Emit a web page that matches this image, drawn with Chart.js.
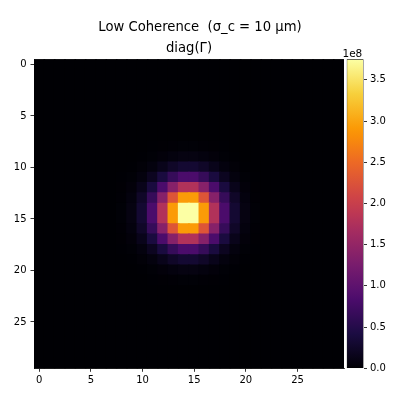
<!DOCTYPE html>
<html><head><meta charset="utf-8">
<script src="https://cdn.jsdelivr.net/npm/chart.js@4.4.1/dist/chart.umd.min.js"></script>
<style>
html,body{margin:0;padding:0;background:#fff;}
#wrap{position:relative;width:400px;height:400px;}
canvas{position:absolute;left:0;top:0;}
</style>
</head><body>
<div id="wrap"><canvas id="main" width="400" height="400"></canvas><canvas id="cbar" width="400" height="400"></canvas></div>
<script>
// ---- data (values in units of 1e8) ----
const suptitle = 'Low Coherence  (σ_c = 10 μm)';
const axTitle = 'diag(Γ)';
const xTicks = [0, 5, 10, 15, 20, 25];
const yTicks = [0, 5, 10, 15, 20, 25];
const cbTicks = [0, 0.5, 1, 1.5, 2, 2.5, 3, 3.5];
const cbOffset = '1e8';
const diagGamma = [
[0,0,0,0,0,0,0, 0,0,0,0,0,0,0,0,0,0,0,0,0,0,0,0, 0,0,0,0,0,0,0],
[0,0,0,0,0,0,0, 0,0,0,0,0,0,0,0,0,0,0,0,0,0,0,0, 0,0,0,0,0,0,0],
[0,0,0,0,0,0,0, 0,0,0,0,0,0,0,0,0,0,0,0,0,0,0,0, 0,0,0,0,0,0,0],
[0,0,0,0,0,0,0, 0,0,0,0,0,0,0,0,0,0,0,0,0,0,0,0, 0,0,0,0,0,0,0],
[0,0,0,0,0,0,0, 0,0,0,0,0,0,0,0,0,0,0,0,0,0,0,0, 0,0,0,0,0,0,0],
[0,0,0,0,0,0,0, 0,0,0,0,0,0,0,0,0,0,0,0,0,0,0,0, 0,0,0,0,0,0,0],
[0,0,0,0,0,0,0, 0,0,0,0,0,0,0,0,0,0,0,0,0,0,0,0, 0,0,0,0,0,0,0],
[0,0,0,0,0,0,0, 0,0,0,0,0.001,0.002,0.003,0.003,0.003,0.003,0.002,0.001,0,0,0,0, 0,0,0,0,0,0,0],
[0,0,0,0,0,0,0, 0,0,0.001,0.002,0.004,0.009,0.015,0.020,0.020,0.015,0.009,0.004,0.002,0.001,0,0, 0,0,0,0,0,0,0],
[0,0,0,0,0,0,0, 0,0.001,0.002,0.007,0.020,0.042,0.069,0.088,0.088,0.069,0.042,0.020,0.007,0.002,0.001,0, 0,0,0,0,0,0,0],
[0,0,0,0,0,0,0, 0,0.002,0.007,0.025,0.069,0.146,0.240,0.308,0.308,0.240,0.146,0.069,0.025,0.007,0.002,0, 0,0,0,0,0,0,0],
[0,0,0,0,0,0,0, 0.001,0.004,0.020,0.069,0.187,0.395,0.652,0.837,0.837,0.652,0.395,0.187,0.069,0.020,0.004,0.001, 0,0,0,0,0,0,0],
[0,0,0,0,0,0,0, 0.002,0.009,0.042,0.146,0.395,0.837,1.380,1.772,1.772,1.380,0.837,0.395,0.146,0.042,0.009,0.002, 0,0,0,0,0,0,0],
[0,0,0,0,0,0,0, 0.003,0.015,0.069,0.240,0.652,1.380,2.275,2.921,2.921,2.275,1.380,0.652,0.240,0.069,0.015,0.003, 0,0,0,0,0,0,0],
[0,0,0,0,0,0,0, 0.003,0.020,0.088,0.308,0.837,1.772,2.921,3.750,3.750,2.921,1.772,0.837,0.308,0.088,0.020,0.003, 0,0,0,0,0,0,0],
[0,0,0,0,0,0,0, 0.003,0.020,0.088,0.308,0.837,1.772,2.921,3.750,3.750,2.921,1.772,0.837,0.308,0.088,0.020,0.003, 0,0,0,0,0,0,0],
[0,0,0,0,0,0,0, 0.003,0.015,0.069,0.240,0.652,1.380,2.275,2.921,2.921,2.275,1.380,0.652,0.240,0.069,0.015,0.003, 0,0,0,0,0,0,0],
[0,0,0,0,0,0,0, 0.002,0.009,0.042,0.146,0.395,0.837,1.380,1.772,1.772,1.380,0.837,0.395,0.146,0.042,0.009,0.002, 0,0,0,0,0,0,0],
[0,0,0,0,0,0,0, 0.001,0.004,0.020,0.069,0.187,0.395,0.652,0.837,0.837,0.652,0.395,0.187,0.069,0.020,0.004,0.001, 0,0,0,0,0,0,0],
[0,0,0,0,0,0,0, 0,0.002,0.007,0.025,0.069,0.146,0.240,0.308,0.308,0.240,0.146,0.069,0.025,0.007,0.002,0, 0,0,0,0,0,0,0],
[0,0,0,0,0,0,0, 0,0.001,0.002,0.007,0.020,0.042,0.069,0.088,0.088,0.069,0.042,0.020,0.007,0.002,0.001,0, 0,0,0,0,0,0,0],
[0,0,0,0,0,0,0, 0,0,0.001,0.002,0.004,0.009,0.015,0.020,0.020,0.015,0.009,0.004,0.002,0.001,0,0, 0,0,0,0,0,0,0],
[0,0,0,0,0,0,0, 0,0,0,0,0.001,0.002,0.003,0.003,0.003,0.003,0.002,0.001,0,0,0,0, 0,0,0,0,0,0,0],
[0,0,0,0,0,0,0, 0,0,0,0,0,0,0,0,0,0,0,0,0,0,0,0, 0,0,0,0,0,0,0],
[0,0,0,0,0,0,0, 0,0,0,0,0,0,0,0,0,0,0,0,0,0,0,0, 0,0,0,0,0,0,0],
[0,0,0,0,0,0,0, 0,0,0,0,0,0,0,0,0,0,0,0,0,0,0,0, 0,0,0,0,0,0,0],
[0,0,0,0,0,0,0, 0,0,0,0,0,0,0,0,0,0,0,0,0,0,0,0, 0,0,0,0,0,0,0],
[0,0,0,0,0,0,0, 0,0,0,0,0,0,0,0,0,0,0,0,0,0,0,0, 0,0,0,0,0,0,0],
[0,0,0,0,0,0,0, 0,0,0,0,0,0,0,0,0,0,0,0,0,0,0,0, 0,0,0,0,0,0,0],
[0,0,0,0,0,0,0, 0,0,0,0,0,0,0,0,0,0,0,0,0,0,0,0, 0,0,0,0,0,0,0]
];

// ---- colormap (inferno) ----
const infernoStops = [
  [0, '#000004'], [1/9, '#1b0c42'], [2/9, '#4b0c6b'], [0.25, '#57106e'],
  [3/9, '#781c6d'], [4/9, '#a52c60'], [0.5, '#bc3754'], [5/9, '#cf4446'],
  [6/9, '#ed6925'], [0.75, '#f98e09'], [7/9, '#fb9a06'], [8/9, '#f7d03c'], [1, '#fcffa4']
];
const hexRgb = h => [parseInt(h.slice(1,3),16), parseInt(h.slice(3,5),16), parseInt(h.slice(5,7),16)];
const stopRgb = infernoStops.map(([t, c]) => [t, hexRgb(c)]);
function inferno(t) {
  t = Math.min(1, Math.max(0, t));
  for (let i = 1; i < stopRgb.length; i++) {
    if (t <= stopRgb[i][0]) {
      const [t0, c0] = stopRgb[i-1], [t1, c1] = stopRgb[i];
      const f = (t - t0) / (t1 - t0);
      const c = c0.map((v, k) => Math.round(v + (c1[k] - v) * f));
      return `rgb(${c[0]},${c[1]},${c[2]})`;
    }
  }
  return 'rgb(252,255,164)';
}

const vmax = Math.max(...diagGamma.flat());
const points = [];
diagGamma.forEach((row, i) => row.forEach((v, j) => points.push({x: j, y: i, v})));

Chart.defaults.font.family = "'DejaVu Sans', sans-serif";
Chart.defaults.color = '#000';

const cellRadius = ctx => {
  const sx = ctx.chart.scales.x;
  const w = Math.abs(sx.getPixelForValue(1) - sx.getPixelForValue(0));
  return (w + 1.6) / Math.SQRT2;
};

// black frame behind the cells so that no sub-pixel seam shows through
const frameBg = {
  id: 'frameBg',
  beforeDatasetsDraw(chart) {
    const { ctx, chartArea: a } = chart;
    ctx.save();
    ctx.fillStyle = inferno(0);
    ctx.fillRect(a.left, a.top, a.right - a.left, a.bottom - a.top);
    ctx.restore();
  }
};

new Chart(document.getElementById('main'), {
  type: 'scatter',
  data: { datasets: [{
    data: points,
    pointStyle: 'rect',
    pointRadius: cellRadius,
    pointHoverRadius: cellRadius,
    backgroundColor: c => inferno(c.raw.v / vmax),
    borderWidth: 0,
    hoverBorderWidth: 0,
    clip: 0
  }]},
  options: {
    responsive: false, animation: false, events: [],
    layout: { padding: 0 },
    plugins: {
      legend: { display: false }, tooltip: { enabled: false },
      title: { display: true, text: suptitle, color: '#000',
        font: { size: 13.2, weight: 'normal', lineHeight: 1.2 }, padding: { top: 20.0, bottom: 0 } },
      subtitle: { display: true, text: axTitle, fullSize: false, color: '#000',
        font: { size: 13.2, weight: 'normal', lineHeight: 1.2 }, padding: { top: 4.9, bottom: 2.7 } }
    },
    scales: {
      x: {
        type: 'linear', position: 'bottom', min: -0.5, max: 29.5,
        afterBuildTicks: s => { s.ticks = xTicks.map(v => ({ value: v })); },
        afterFit: s => { s.height = 31.7; },
        grid: { drawOnChartArea: false, tickLength: 3.5, color: '#000', lineWidth: 0.8 },
        border: { display: true, color: '#000', width: 0.8 },
        ticks: { color: '#000', font: { size: 10 }, padding: 3, maxRotation: 0, autoSkip: false }
      },
      y: {
        type: 'linear', position: 'left', reverse: true, min: -0.5, max: 29.5,
        afterBuildTicks: s => { s.ticks = yTicks.map(v => ({ value: v })); },
        afterFit: s => { s.width = 34; },
        grid: { drawOnChartArea: false, tickLength: 3.5, color: '#000', lineWidth: 0.8 },
        border: { display: true, color: '#000', width: 0.8 },
        ticks: { color: '#000', font: { size: 10 }, padding: 4, autoSkip: false }
      },
      yr: {
        type: 'linear', position: 'right', display: true,
        afterFit: s => { s.width = 56; },
        grid: { display: false }, border: { display: false }, ticks: { display: false }
      }
    }
  },
  plugins: [frameBg]
});

const offsetTextPlugin = {
  id: 'offsetText',
  afterDraw(chart) {
    const { ctx, chartArea } = chart;
    ctx.save();
    ctx.font = "10.5px 'DejaVu Sans', sans-serif";
    ctx.fillStyle = '#000';
    ctx.textAlign = 'right';
    ctx.textBaseline = 'alphabetic';
    ctx.fillText(cbOffset, chartArea.right - 1.2, chartArea.top - 2.5);
    ctx.restore();
  }
};

new Chart(document.getElementById('cbar'), {
  type: 'bar',
  data: { labels: [''], datasets: [{
    data: [vmax],
    backgroundColor: c => {
      const area = c.chart.chartArea;
      if (!area) return '#000';
      const g = c.chart.ctx.createLinearGradient(0, area.bottom, 0, area.top);
      infernoStops.forEach(([t, col]) => g.addColorStop(t, col));
      return g;
    },
    borderColor: '#000', borderWidth: 0.8, borderSkipped: false,
    categoryPercentage: 1, barPercentage: 1
  }]},
  options: {
    responsive: false, animation: false, events: [],
    layout: { padding: { left: 346.7, right: 0, top: 59.3, bottom: 31.7 } },
    plugins: { legend: { display: false }, tooltip: { enabled: false } },
    scales: {
      x: { display: false },
      y: {
        position: 'right', min: 0, max: vmax,
        afterBuildTicks: s => { s.ticks = cbTicks.map(v => ({ value: v })); },
        afterFit: s => { s.width = 36.5; },
        grid: { drawOnChartArea: false, tickLength: 3.5, color: '#000', lineWidth: 0.8 },
        border: { display: false },
        ticks: { color: '#000', font: { size: 10 }, padding: 3, autoSkip: false, callback: v => v.toFixed(1) }
      }
    }
  },
  plugins: [offsetTextPlugin]
});
</script>
</body></html>
